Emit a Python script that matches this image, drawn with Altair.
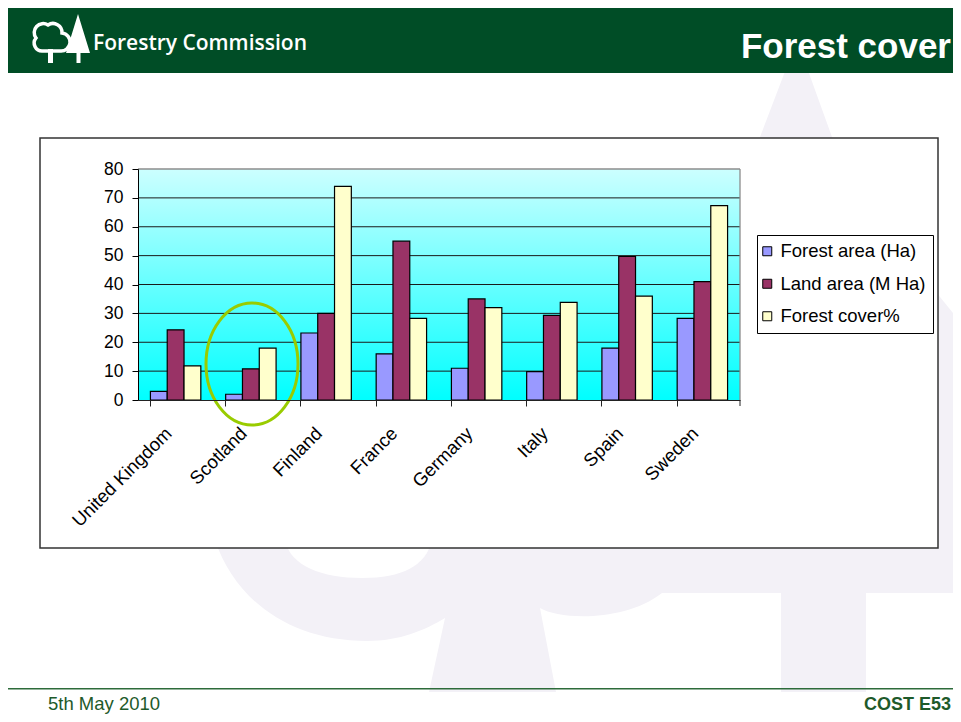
import altair as alt
import pandas as pd

# ---------------- data ----------------
countries = ["United Kingdom", "Scotland", "Finland", "France",
             "Germany", "Italy", "Spain", "Sweden"]
series = ["Forest area (Ha)", "Land area (M Ha)", "Forest cover%"]
forest_area = [3, 2, 23.2, 16, 11, 9.8, 18, 28.3]
land_area = [24.3, 10.8, 30, 55, 35, 29.3, 49.7, 41]
forest_cover = [11.8, 18, 74, 28.3, 32, 33.8, 36, 67.3]
colors = ["#9999ff", "#993366", "#ffffcc"]
y_ticks = [0, 10, 20, 30, 40, 50, 60, 70, 80]

rows = []
for i, c in enumerate(countries):
    for s, vals in zip(series, [forest_area, land_area, forest_cover]):
        rows.append({"country": c, "series": s, "value": vals[i]})
df = pd.DataFrame(rows)

# ---------------- layout ----------------
W, H = 602, 231          # plot area
OX, OY = 138, 169        # page position of the plot origin
FONT = "Liberation Sans"
GREEN = "#004d26"
PALE = "#f3f1f7"


def px(v):
    return alt.value(v - OX)


def py(v):
    return alt.value(v - OY)


one = alt.Data(values=[{"k": 0}])


def rect(x1, y1, x2, y2, **kw):
    return alt.Chart(one).mark_rect(**kw).encode(x=px(x1), x2=px(x2), y=py(y1), y2=py(y2))


def text(t, x, y, **kw):
    return alt.Chart(one).mark_text(text=t, **kw).encode(x=px(x), y=py(y))


def shape(path, **kw):
    # custom symbol path in page pixels (size=4 -> scale 1)
    return alt.Chart(one).mark_point(shape=path, size=4, opacity=1, **kw).encode(x=px(0), y=py(0))


# watermark (faint Forestry Commission logo)
wm_path = ("M215,540 C235,600 290,641 367,641 C400,641 425,630 445,618 "
           "L429,692 L556,692 L540,608 C560,620 625,622 662,593 "
           "L781,593 L781,692 L866,692 L866,593 L975,593 L975,340 "
           "L940,297 L832,137 L797,40 L760,137 L700,300 L600,540 Z")
bowl_path = "M285,540 C290,566 322,578 362,578 C402,578 426,566 432,540 Z"
watermark = shape(wm_path, filled=True, fill=PALE, strokeWidth=0)
bowl = shape(bowl_path, filled=True, fill="white", strokeWidth=0)

# header
header = rect(-10, -10, 975, 73, fill=GREEN)
cloud = shape("M43,51 A8,8 0 0,1 36,38 A9,9 0 0,1 48,25 A9,9 0 0,1 62,33 A8,8 0 0,1 60,51 Z",
              filled=False, stroke="white", strokeWidth=3.5)
conifer = shape("M78,14 L90,53 L66,53 Z M76.5,52 L80.5,52 L80.5,63 L76.5,63 Z "
                "M48,49 L53,49 L53,63 L48,63 Z",
                filled=True, fill="white", strokeWidth=0)
logo_text = text("Forestry Commission", 93, 50, font="Open Sans", fontSize=21,
                 fontWeight=600, color="white", align="left", baseline="alphabetic")
title = text("Forest cover", 951, 58, font=FONT, fontSize=35, fontWeight="bold",
             color="white", align="right", baseline="alphabetic")

# footer
footer_line = rect(8, 688, 975, 689.5, fill="#2d6b3a")
footer_left = text("5th May 2010", 48, 710, font=FONT, fontSize=18.5, color="#1e5a2a",
                   align="left", baseline="alphabetic")
footer_right = text("COST E53", 951, 710, font=FONT, fontSize=18, fontWeight="bold",
                    color="#1e5a2a", align="right", baseline="alphabetic")

# chart box and plot background
box = rect(40, 138, 938, 548, fill="white", stroke="#333333", strokeWidth=1.5)
gradient = alt.LinearGradient(
    gradient="linear",
    stops=[alt.GradientStop(color="#ccffff", offset=0),
           alt.GradientStop(color="#00ffff", offset=1)],
    x1=0, x2=0, y1=0, y2=1,
)
plot_bg = alt.Chart(one).mark_rect(fill=gradient).encode(
    x=alt.value(0), x2=alt.value(W), y=alt.value(0), y2=alt.value(H))

y_enc = alt.Y(
    "value:Q",
    scale=alt.Scale(domain=[0, 80], nice=False, zero=True),
    axis=alt.Axis(values=y_ticks, grid=False, title=None, zindex=1,
                  domainColor="#000000", tickColor="#000000", tickSize=6,
                  labelPadding=9, labelFont=FONT, labelFontSize=17.5,
                  labelColor="#000000"),
)

grid = alt.Chart(pd.DataFrame({"value": y_ticks[1:-1]})).mark_rule(
    color="#1a1a1a", strokeWidth=1).encode(y=y_enc, x=alt.value(0), x2=alt.value(W))
top_border = alt.Chart(one).mark_rule(color="#8c8c8c", strokeWidth=1.3).encode(
    x=alt.value(0), x2=alt.value(W), y=alt.value(0))
right_border = alt.Chart(one).mark_rule(color="#8c8c8c", strokeWidth=1.3).encode(
    x=alt.value(W), y=alt.value(0), y2=alt.value(H))

bars = alt.Chart(df).mark_bar(stroke="#000000", strokeWidth=1.2, opacity=1).encode(
    x=alt.X(
        "country:N", sort=countries,
        scale=alt.Scale(paddingInner=0.33, paddingOuter=0.165),
        axis=alt.Axis(title=None, zindex=1, bandPosition=0, labelAngle=-45,
                      labelAlign="right", labelBaseline="middle",
                      labelPadding=24, labelOffset=-7,
                      labelFont=FONT, labelFontSize=18.5, labelColor="#000000",
                      domainColor="#222222", tickColor="#222222", tickSize=6),
    ),
    xOffset=alt.XOffset("series:N", sort=series, scale=alt.Scale(paddingInner=0, paddingOuter=0)),
    y=y_enc,
    color=alt.Color(
        "series:N", sort=series,
        scale=alt.Scale(domain=series, range=colors),
        legend=alt.Legend(
            title=None, orient="none", legendX=619, legendY=66,
            direction="vertical", symbolType="square", symbolSize=81,
            symbolStrokeColor="#000000", symbolStrokeWidth=1, symbolOpacity=1,
            symbolOffset=alt.ExprRef(expr="-6"),
            labelFont=FONT, labelFontSize=18.5, labelColor="#000000",
            labelOffset=4, rowPadding=13.5, padding=7,
            strokeColor="#000000", fillColor="white",
        ),
    ),
)

end_tick = alt.Chart(one).mark_rule(color="#222222").encode(
    x=alt.value(W), y=alt.value(H), y2=alt.value(H + 6))

ellipse = shape("M206,364 A46,61 0 1,0 298,364 A46,61 0 1,0 206,364 Z",
                filled=False, stroke="#99cc00", strokeWidth=3)

chart = alt.layer(
    watermark, bowl, header, cloud, conifer, logo_text, title,
    footer_line, footer_left, footer_right,
    box, plot_bg, grid, top_border, right_border, bars, end_tick, ellipse,
).properties(
    width=W, height=H,
    padding={"left": 130, "top": 161, "right": 213, "bottom": 314},
    autosize=alt.AutoSizeParams(type="none"),
    background="white",
).configure_view(stroke="transparent")

chart.save("out.html", embed_options={"renderer": "svg", "actions": False})
